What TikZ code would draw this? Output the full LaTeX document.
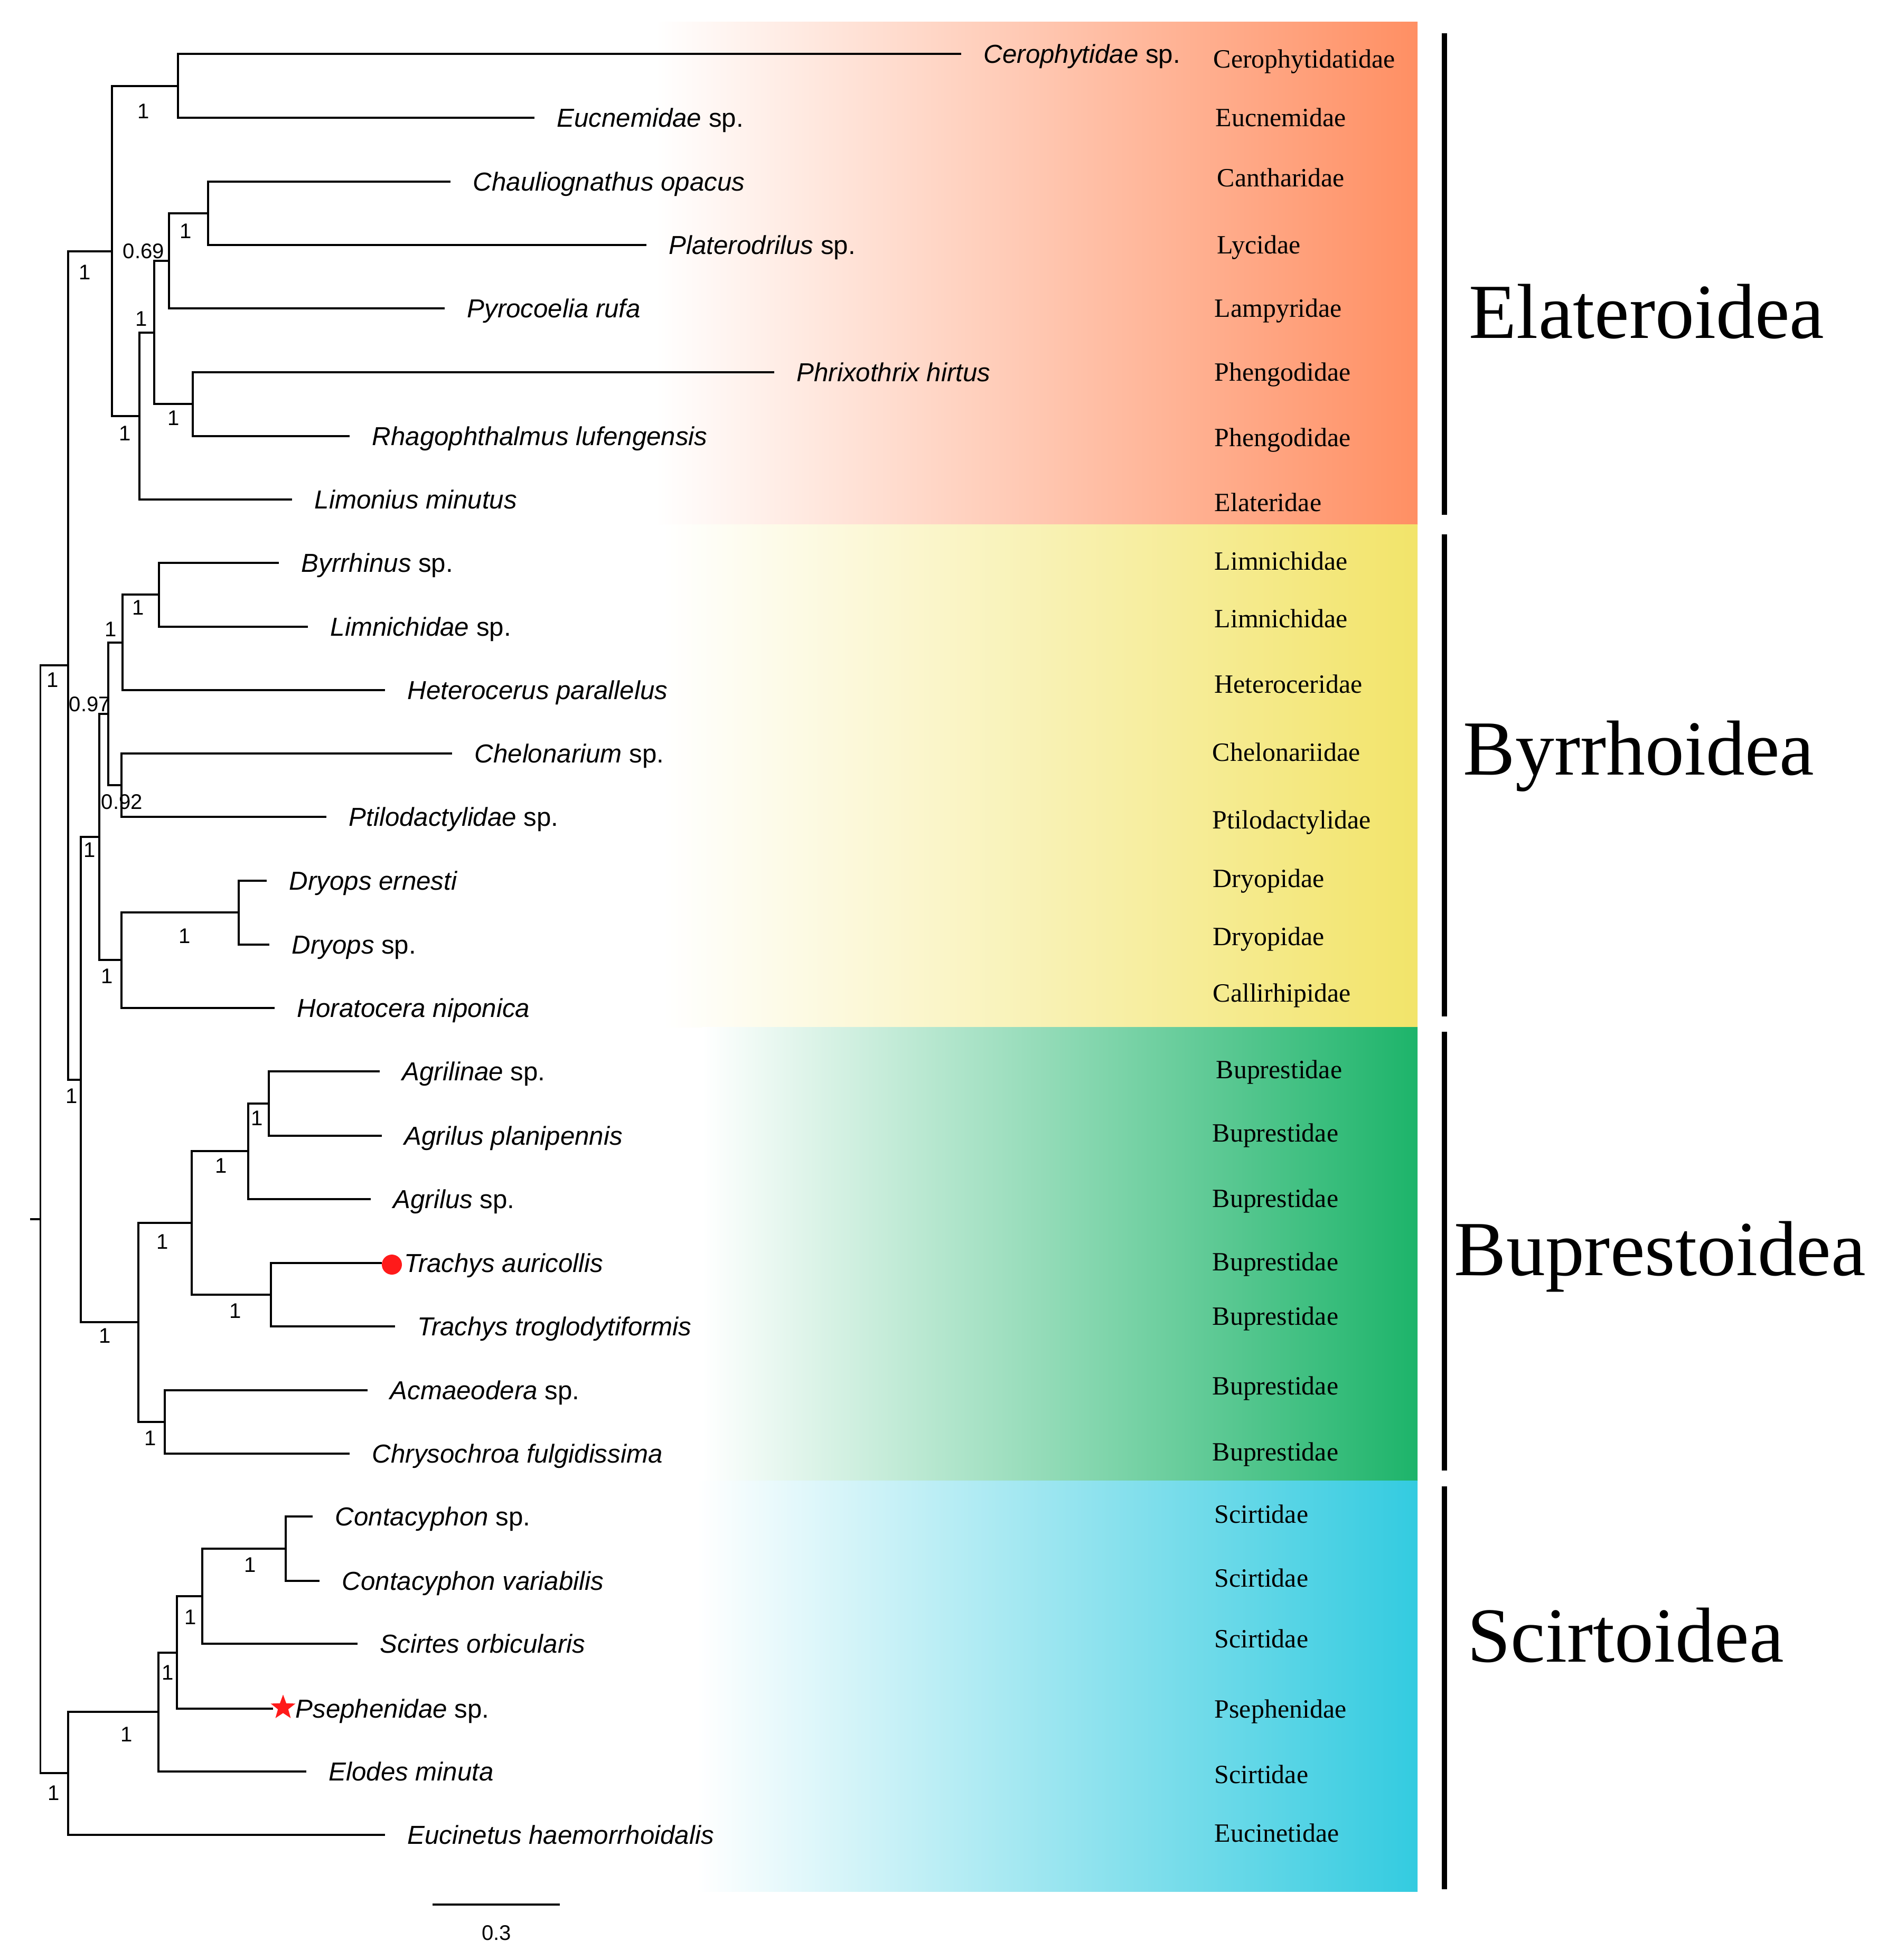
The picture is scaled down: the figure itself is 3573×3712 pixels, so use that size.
\documentclass[tikz,border=0pt]{standalone}
\usepackage{fontspec}
\setmainfont{Liberation Serif}
\setsansfont{Liberation Sans}
\usetikzlibrary{shapes.geometric, positioning}
\definecolor{elatcol}{HTML}{FF8F63}
\definecolor{byrrcol}{HTML}{F2E46A}
\definecolor{bupcol}{HTML}{1DB46A}
\definecolor{scircol}{HTML}{33CBE0}
\definecolor{markred}{HTML}{FF1A1A}
\newcommand{\taxsp}[1]{\textit{#1} sp.}

\begin{document}
\begin{tikzpicture}[x=0.01cm, y=-0.01cm,
    branch/.style={line width=0.9pt, line join=miter},
    taxon/.style={anchor=west, inner sep=0pt, font=\fontsize{14}{16}\selectfont\sffamily, text height=10pt, text depth=0pt},
    family/.style={anchor=west, inner sep=0pt, font=\fontsize{14.2}{17}\selectfont, text height=9.4pt, text depth=0pt},
    support/.style={inner sep=0pt, font=\fontsize{11.4}{13}\selectfont\sffamily, text height=8.2pt, text depth=0pt},
    superfam/.style={anchor=base west, inner sep=0pt, font=\fontsize{42}{50}\selectfont},
    groupbar/.style={line width=3.1pt}]
    \useasboundingbox (0,0) rectangle (3573,3712);

    % Superfamily bands
    \shade[left color=white, right color=elatcol] (1240,42) rectangle (2684,993);
    \shade[left color=white, right color=byrrcol] (1256,993) rectangle (2684,1945);
    \shade[left color=white, right color=bupcol] (1330,1945) rectangle (2684,2804);
    \shade[left color=white, right color=scircol] (1320,2804) rectangle (2684,3582);

    % Leaves
    \foreach \n/\y/\e/\t in {
      cer/102/1820/{\taxsp{Cerophytidae}}, euc/223/1012/{\taxsp{Eucnemidae}},
      cha/344/853/{\textit{Chauliognathus opacus}}, pla/464/1224/{\taxsp{Platerodrilus}},
      pyr/584/842/{\textit{Pyrocoelia rufa}}, phr/705/1466/{\textit{Phrixothrix hirtus}},
      rha/826/662/{\textit{Rhagophthalmus lufengensis}}, lim/946/553/{\textit{Limonius minutus}},
      byr/1066/528/{\taxsp{Byrrhinus}}, lmn/1187/583/{\taxsp{Limnichidae}},
      het/1307/729/{\textit{Heterocerus parallelus}}, che/1427/856/{\taxsp{Chelonarium}},
      pti/1547/618/{\taxsp{Ptilodactylidae}}, dre/1668/505/{\textit{Dryops ernesti}},
      drs/1789/510/{\taxsp{Dryops}}, hor/1909/520/{\textit{Horatocera niponica}},
      agi/2029/719/{\taxsp{Agrilinae}}, agp/2151/723/{\textit{Agrilus planipennis}},
      ags/2271/702/{\taxsp{Agrilus}}, tra/2392/723/{\textit{Trachys auricollis}},
      trt/2512/748/{\textit{Trachys troglodytiformis}}, acm/2633/696/{\taxsp{Acmaeodera}},
      chr/2753/662/{\textit{Chrysochroa fulgidissima}}, cos/2872/592/{\taxsp{Contacyphon}},
      cov/2994/605/{\textit{Contacyphon variabilis}}, sco/3113/677/{\textit{Scirtes orbicularis}},
      pse/3236/517/{\taxsp{Psephenidae}}, elo/3355/580/{\textit{Elodes minuta}},
      ecn/3475/729/{\textit{Eucinetus haemorrhoidalis}}} {
      \coordinate (\n) at (\e,\y);
      \node[taxon] (\n-t) at ({\e+42},\y) {\t};
    }

    % Internal nodes
    \coordinate (nA) at (337,163);
    \coordinate (nB) at (394,404);
    \coordinate (nC) at (320,494);
    \coordinate (nF) at (365,765);
    \coordinate (nD) at (292,630);
    \coordinate (nG) at (264,788);
    \coordinate (nE) at (212,476);
    \coordinate (nH) at (301,1126);
    \coordinate (nI) at (232,1217);
    \coordinate (nJ) at (230,1487);
    \coordinate (nK) at (205,1352);
    \coordinate (nL) at (452,1728);
    \coordinate (nM) at (230,1818);
    \coordinate (nN) at (188,1585);
    \coordinate (nO) at (509,2090);
    \coordinate (nP) at (470,2180);
    \coordinate (nQ) at (513,2452);
    \coordinate (nR) at (363,2316);
    \coordinate (nS) at (312,2693);
    \coordinate (nT) at (262,2504);
    \coordinate (nY) at (153,2045);
    \coordinate (nX) at (129,1260);
    \coordinate (nU) at (541,2933);
    \coordinate (nV) at (383,3023);
    \coordinate (nW) at (335,3130);
    \coordinate (nZ) at (300,3242);
    \coordinate (nSc) at (129,3358);
    \coordinate (root) at (76.5,2309);
    \coordinate (root0) at (57,2309);

    % Branches
    \foreach \p/\c in {nA/cer, nA/euc, nB/cha, nB/pla, nC/nB, nC/pyr, nF/phr, nF/rha,
      nD/nC, nD/nF, nG/nD, nG/lim, nE/nA, nE/nG,
      nH/byr, nH/lmn, nI/nH, nI/het, nJ/che, nJ/pti, nK/nI, nK/nJ,
      nL/dre, nL/drs, nM/nL, nM/hor, nN/nK, nN/nM,
      nO/agi, nO/agp, nP/nO, nP/ags, nQ/tra, nQ/trt, nR/nP, nR/nQ,
      nS/acm, nS/chr, nT/nR, nT/nS, nY/nN, nY/nT, nX/nE, nX/nY,
      nU/cos, nU/cov, nV/nU, nV/sco, nW/nV, nW/pse, nZ/nW, nZ/elo,
      nSc/nZ, nSc/ecn, root/nX, root/nSc} {
      \draw[branch] (\p) |- (\c);
    }
    \draw[branch] (root0) -- (root);

    % Markers
    \node[circle, fill=markred, inner sep=0pt, minimum size=10.8pt] (tra-m) at (742,2395) {};
    \node[star, star points=5, star point ratio=2.4, fill=markred, inner sep=0pt, minimum size=14pt] (pse-m) at (536,3234) {};

    % Support values
    \foreach \x/\y/\v [count=\i] in {272/210/1, 352/437/1, 272/475/0.69, 268/603/1,
      329/791/1, 237/820/1, 161/515/1, 99.5/1287/1, 262/1150/1, 210/1191/1,
      170/1333/0.97, 231/1518/0.92, 350/1772/1, 203/1848/1, 170/1609/1,
      136/2075/1, 487/2117/1, 419/2207/1, 446/2482/1, 308/2351/1, 285/2723/1,
      199/2529/1, 474/2963/1, 361/3062/1, 318/3167/1, 240/3284/1, 102/3395/1} {
      \node[support] (s\i) at (\x,\y) {\v};
    }

    % Families
    \foreach \x/\y/\t [count=\i] in {2297/112/Cerophytidatidae, 2301/223/Eucnemidae,
      2304/337/Cantharidae, 2304/464/Lycidae, 2299/584/Lampyridae, 2299/705/Phengodidae,
      2299/829/Phengodidae, 2299/952/Elateridae, 2299/1063/Limnichidae,
      2299/1172/Limnichidae, 2299/1296/Heteroceridae, 2295/1425/Chelonariidae,
      2295/1553/Ptilodactylidae, 2296/1664/Dryopidae, 2296/1774/Dryopidae,
      2296/1881/Callirhipidae, 2302/2026/Buprestidae, 2295/2146/Buprestidae,
      2295/2270/Buprestidae, 2295/2390/Buprestidae, 2295/2493/Buprestidae,
      2295/2625/Buprestidae, 2295/2750/Buprestidae, 2299/2868/Scirtidae,
      2299/2989/Scirtidae, 2299/3104/Scirtidae, 2299/3237/Psephenidae,
      2299/3361/Scirtidae, 2299/3472/Eucinetidae} {
      \node[family] (f\i) at (\x,\y) {\t};
    }

    % Superfamilies
    \draw[groupbar] (2735,63) -- (2735,975);
    \draw[groupbar] (2735,1012) -- (2735,1925);
    \draw[groupbar] (2735,1954) -- (2735,2785);
    \draw[groupbar] (2735,2815) -- (2735,3578);
    \node[superfam] (elat) at (2781,640) {Elateroidea};
    \node[superfam] (byrr) at (2770,1467) {Byrrhoidea};
    \node[superfam] (bupr) at (2753,2415) {Buprestoidea};
    \node[superfam] (scir) at (2778,3147) {Scirtoidea};

    % Scale bar
    \coordinate (sb1) at (819,3607);
    \coordinate (sb2) at (1060,3607);
    \draw[branch] (sb1) -- (sb2);
    \node[support] (sbl) at (940,3660) {0.3};
  \end{tikzpicture}
\end{document}
